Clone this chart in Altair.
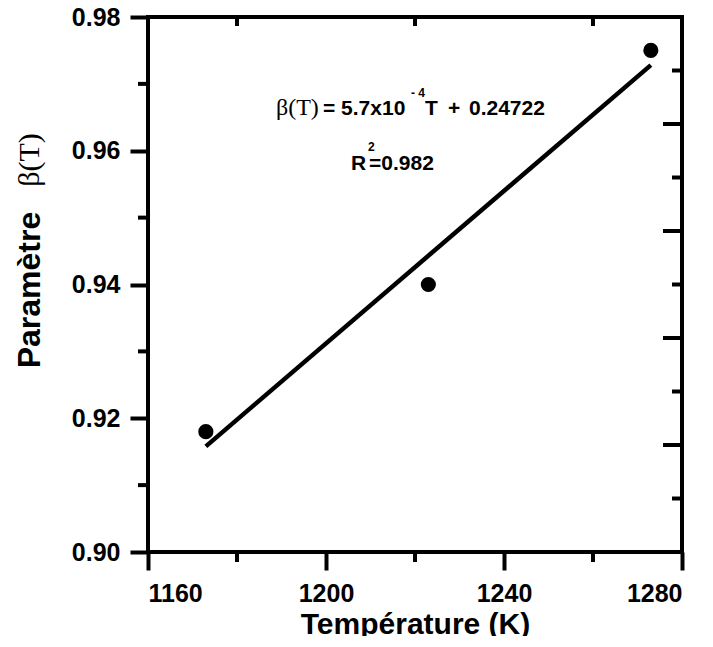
import altair as alt
import pandas as pd

# observed data
T_obs = [1173, 1223, 1273]
beta_obs = [0.918, 0.940, 0.975]
# fitted line endpoints
fit_T = [1173, 1273]
fit_beta = [0.9158, 0.9728]

# ticks
x_major = [1160, 1200, 1240, 1280]
x_minor = [1180, 1220, 1260]
y_major = [0.90, 0.92, 0.94, 0.96, 0.98]
y_minor = [0.91, 0.93, 0.95, 0.97]
right_long = [0.916, 0.932, 0.948, 0.964]
right_short = [0.908, 0.924, 0.940, 0.956, 0.972]
top_minor = [1180, 1220, 1260]

SANS = "Liberation Sans"
SERIF = "Liberation Serif"
W, H = 534, 535

xs = alt.Scale(domain=[1160, 1280], nice=False, zero=False)
ys = alt.Scale(domain=[0.90, 0.98], nice=False, zero=False)

xaxis = alt.Axis(values=x_major, format="d", tickSize=18, tickWidth=4, tickColor="black",
                 labelFont=SANS, labelFontSize=25, labelFontWeight="bold", labelColor="black",
                 labelPadding=11, domain=False, grid=False, title="Température (K)",
                 titleFont=SANS, titleFontSize=30, titleFontWeight="bold", titleColor="black",
                 titleX=W / 2, titleY=81, titleAlign="center", titleBaseline="alphabetic")
yaxis = alt.Axis(values=y_major, format=".2f", tickSize=18, tickWidth=4, tickColor="black",
                 labelFont=SANS, labelFontSize=25, labelFontWeight="bold", labelColor="black",
                 labelPadding=10, domain=False, grid=False, title=None)

pts = alt.Chart(pd.DataFrame({"T": T_obs, "b": beta_obs})).mark_circle(
    size=230, color="black", opacity=1).encode(
    x=alt.X("T:Q", scale=xs, axis=xaxis),
    y=alt.Y("b:Q", scale=ys, axis=yaxis))

fit = alt.Chart(pd.DataFrame({"T": fit_T, "b": fit_beta})).mark_line(
    color="black", strokeWidth=4.5).encode(
    x=alt.X("T:Q", scale=xs), y=alt.Y("b:Q", scale=ys))

def yrule(vals, x1, x2):
    return alt.Chart(pd.DataFrame({"v": vals})).mark_rule(color="black", strokeWidth=4).encode(
        y=alt.Y("v:Q", scale=ys), x=alt.value(x1), x2=alt.value(x2))

def xrule(vals, y1, y2):
    return alt.Chart(pd.DataFrame({"v": vals})).mark_rule(color="black", strokeWidth=4).encode(
        x=alt.X("v:Q", scale=xs), y=alt.value(y1), y2=alt.value(y2))

rules = [
    yrule(y_minor, -10, 0),
    xrule(x_minor, H, H + 10),
    yrule(right_long, W - 19, W),
    yrule(right_short, W - 10, W),
    xrule(top_minor, 0, 9),
]

def txt(s, x, y, size, font=SANS, weight="bold", angle=0, align="left", baseline="alphabetic"):
    return alt.Chart(pd.DataFrame({"t": [s]})).mark_text(
        font=font, fontSize=size, fontWeight=weight, angle=angle, align=align,
        baseline=baseline, color="black").encode(
        text="t:N", x=alt.value(x), y=alt.value(y))

texts = [
    txt("β(T)", 128, 98, 24, font=SERIF, weight="normal"),
    txt("= 5.7x10", 175, 98, 21),
    txt("- 4", 263, 80, 12),
    txt("T", 277, 98, 21),
    txt("+", 300, 98, 21),
    txt("0.24722", 321, 98, 21),
    txt("R", 203, 153, 21),
    txt("2", 220, 134, 12),
    txt("=0.982", 221, 153, 21),
    txt("Paramètre", -118, 273, 32, angle=270, align="center", baseline="middle"),
    txt("β(T)", -118, 143, 30, font=SERIF, weight="normal", angle=270, align="center", baseline="middle"),
]

chart = alt.layer(fit, pts, *rules, *texts).properties(
    width=W, height=H,
    padding={"left": 140, "top": 9, "right": 23, "bottom": 84},
    autosize=alt.AutoSizeParams(type="none"),
).configure_view(stroke="black", strokeWidth=4)

chart.save("out.html", embed_options={"renderer": "svg", "actions": False})
